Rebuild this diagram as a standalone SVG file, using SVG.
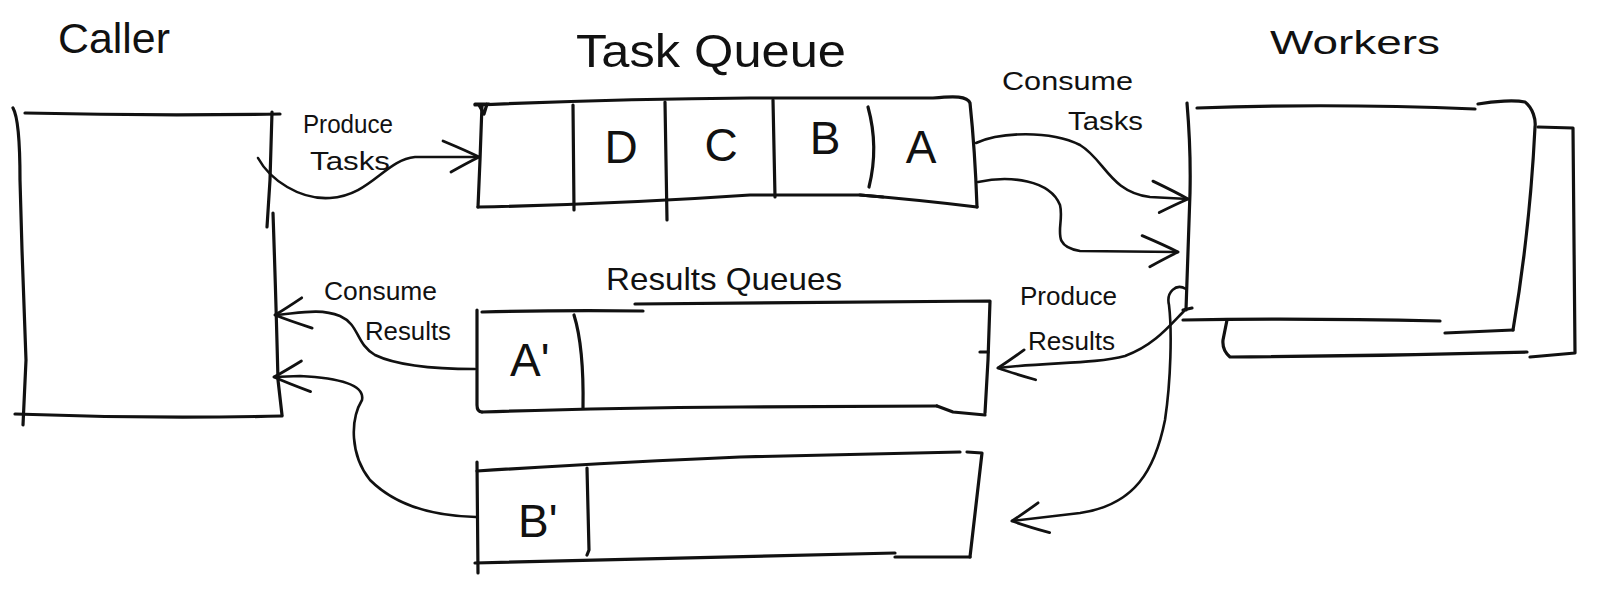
<svg xmlns="http://www.w3.org/2000/svg" width="1611" height="604" viewBox="0 0 1611 604">
  <style>
    .ink { fill: none; stroke: #111; stroke-width: 3.2; stroke-linecap: round; stroke-linejoin: round; }
    .wire { fill: none; stroke: #111; stroke-width: 2.6; stroke-linecap: round; stroke-linejoin: round; }
    .lbl { font-family: "Liberation Sans", Arial, sans-serif; fill: #111; }
    .title { font-size: 42px; }
    .note { font-size: 26px; }
    .item { font-size: 46px; }
  </style>
  <defs>
    <!-- open, slightly curved chevron used on every connector end -->
    <marker id="open-arrow" markerUnits="userSpaceOnUse" markerWidth="80" markerHeight="80" refX="0" refY="0" viewBox="-40 -40 80 80" orient="auto" overflow="visible">
      <path d="M-36,-16 Q-12,-6 0,0 Q-12,6 -28,15" fill="none" stroke="#111" stroke-width="2.8" stroke-linecap="round" stroke-linejoin="round"/>
    </marker>
  </defs>

  <rect width="1611" height="604" fill="#fff"/>

  <!-- Caller -->
  <g id="caller">
    <text class="lbl title" x="58" y="53" textLength="112" lengthAdjust="spacingAndGlyphs">Caller</text>
    <path class="ink" d="M13,108 Q20,120 20,180 L22,250 Q25,330 26,360 L23,425"/>
    <path class="ink" d="M25,113 Q150,116 280,114"/>
    <path class="ink" d="M272,112 L270,180 L267,227"/>
    <path class="ink" d="M273,213 Q276,300 278,380 L282,415"/>
    <path class="ink" d="M15,414 Q150,419 282,416"/>
  </g>

  <!-- Task Queue -->
  <g id="task-queue">
    <text class="lbl" font-size="46" x="576" y="67" textLength="270" lengthAdjust="spacingAndGlyphs">Task Queue</text>
    <path class="ink" d="M482,105 L480,160 L478,207"/>
    <path class="ink" d="M475,104 L489,104 M479,105 L484,114 L487,104"/>
    <path class="ink" d="M475,105 Q620,99 750,98 L933,98 C955,96 967,96 970,103 Q975,150 977,207"/>
    <path class="ink" d="M478,207 Q620,204 750,195 L860,195 Q920,200 977,207"/>
    <path class="ink" d="M860,195 L883,197"/>
    <path class="ink" d="M573,105 L574,210"/>
    <path class="ink" d="M665,102 L667,220"/>
    <path class="ink" d="M773,100 L775,197"/>
    <path class="ink" d="M868,107 Q879,147 869,187"/>
    <text class="lbl item" x="621" y="163" text-anchor="middle">D</text>
    <text class="lbl item" x="721" y="161" text-anchor="middle">C</text>
    <text class="lbl item" x="825" y="154" text-anchor="middle">B</text>
    <text class="lbl item" x="921" y="163" text-anchor="middle">A</text>
  </g>

  <!-- Workers: a front box with a second one stacked behind it -->
  <g id="workers">
    <text class="lbl" font-size="34" x="1270" y="54" textLength="170" lengthAdjust="spacingAndGlyphs">Workers</text>
    <path class="ink" d="M1538,127 L1573,128 L1575,353 L1530,357"/>
    <path class="ink" d="M1527,352 Q1380,356 1230,357 Q1222,350 1223,340 L1227,320"/>
    <path class="ink" d="M1187,103 Q1191,150 1190,193 L1186,310"/>
    <path class="ink" d="M1183,310 L1192,308"/>
    <path class="ink" d="M1197,108 Q1330,103 1475,109"/>
    <path class="ink" d="M1478,104 C1495,101 1515,100 1525,102 C1533,108 1536,120 1535,127 Q1530,230 1513,330"/>
    <path class="ink" d="M1183,320 Q1300,318 1440,321"/>
    <path class="ink" d="M1445,333 L1513,330"/>
  </g>

  <!-- Results Queues -->
  <g id="results-queues">
    <text class="lbl" font-size="32" x="606" y="290" textLength="236" lengthAdjust="spacingAndGlyphs">Results Queues</text>
    <g id="result-a">
      <path class="ink" d="M477,310 L477,405 Q477,412 482,412"/>
      <path class="ink" d="M482,312 Q560,310 643,311"/>
      <path class="ink" d="M635,304 Q800,303 990,301 L988,360 L985,413"/>
      <path class="ink" d="M980,352 L988,352"/>
      <path class="ink" d="M482,412 Q600,408 740,407 L937,406"/>
      <path class="ink" d="M937,406 L953,412 L985,415"/>
      <path class="ink" d="M574,315 Q584,347 583,408"/>
      <text class="lbl item" x="510" y="376">A'</text>
    </g>
    <g id="result-b">
      <path class="ink" d="M477,462 L478,573"/>
      <path class="ink" d="M477,471 Q620,462 740,457 L960,452"/>
      <path class="ink" d="M967,452 L982,453 L970,557"/>
      <path class="ink" d="M475,563 Q700,557 895,553"/>
      <path class="ink" d="M895,557 L970,557"/>
      <path class="ink" d="M587,468 L589,550 L587,555"/>
      <text class="lbl item" x="518" y="537">B'</text>
    </g>
  </g>

  <!-- Connectors and their labels -->
  <g id="connectors">
    <!-- Caller produces tasks -->
    <path class="wire" marker-end="url(#open-arrow)" d="M258,158 C270,180 300,200 330,198 C370,196 385,160 415,157 L479,157"/>
    <text class="lbl note" x="303" y="133" textLength="90" lengthAdjust="spacingAndGlyphs">Produce</text>
    <text class="lbl note" x="310" y="170" textLength="80" lengthAdjust="spacingAndGlyphs">Tasks</text>

    <!-- Workers consume tasks -->
    <path class="wire" marker-end="url(#open-arrow)" d="M976,143 C1000,132 1050,130 1080,145 C1105,160 1110,192 1150,197 L1188,199"/>
    <path class="wire" marker-end="url(#open-arrow)" d="M978,182 C1010,175 1050,180 1060,205 C1065,225 1048,246 1080,251 L1178,252"/>
    <text class="lbl note" x="1002" y="90" textLength="131" lengthAdjust="spacingAndGlyphs">Consume</text>
    <text class="lbl note" x="1068" y="130" textLength="75" lengthAdjust="spacingAndGlyphs">Tasks</text>

    <!-- Workers produce results -->
    <path class="wire" marker-end="url(#open-arrow)" d="M1186,309 C1170,325 1155,345 1125,356 C1095,364 1050,362 998,368"/>
    <path class="wire" marker-end="url(#open-arrow)" d="M1186,289 C1176,283 1166,292 1169,305 C1172,330 1171,380 1165,420 C1155,470 1135,505 1080,513 L1012,521"/>
    <text class="lbl note" x="1020" y="305" textLength="97" lengthAdjust="spacingAndGlyphs">Produce</text>
    <text class="lbl note" x="1028" y="350" textLength="87" lengthAdjust="spacingAndGlyphs">Results</text>

    <!-- Caller consumes results -->
    <path class="wire" marker-end="url(#open-arrow)" d="M475,369 C440,369 400,367 375,355 C355,343 360,325 340,316 C320,308 300,313 275,315"/>
    <path class="wire" marker-end="url(#open-arrow)" d="M476,517 C430,516 395,505 370,480 C350,455 350,420 362,400 C365,385 340,378 300,376 L274,377"/>
    <text class="lbl note" x="324" y="300" textLength="113" lengthAdjust="spacingAndGlyphs">Consume</text>
    <text class="lbl note" x="365" y="340" textLength="86" lengthAdjust="spacingAndGlyphs">Results</text>
  </g>
</svg>
